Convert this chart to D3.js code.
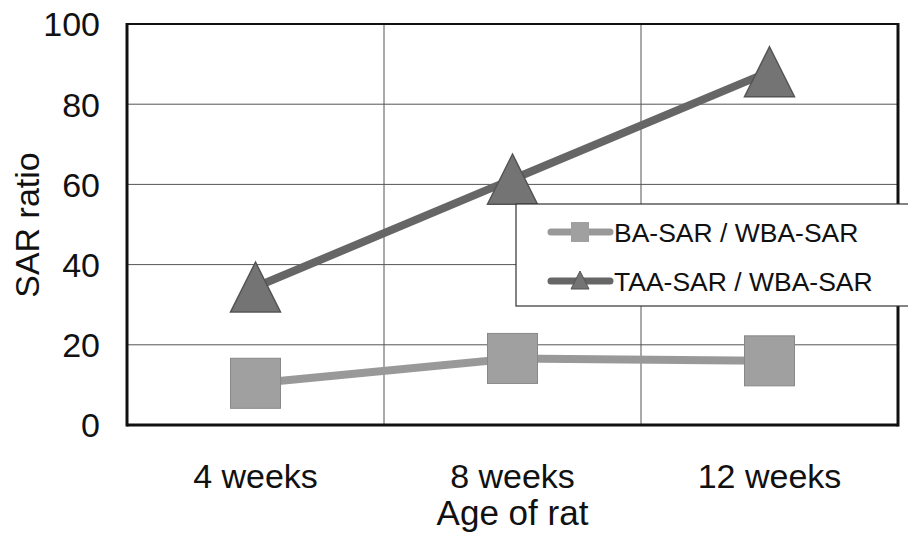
<!DOCTYPE html>
<html><head><meta charset="utf-8">
<script src="https://cdn.jsdelivr.net/npm/d3@7"></script>
<style>body{margin:0;background:#fff}svg{display:block}</style>
</head><body>
<svg id="c" width="908" height="541"></svg>
<script>
const categories = ["4 weeks", "8 weeks", "12 weeks"];
const baSeries = [10.4, 16.6, 16.0];
const taaSeries = [34.4, 61.3, 88.1];
const seriesNames = ["BA-SAR / WBA-SAR", "TAA-SAR / WBA-SAR"];
const yTicks = [0, 20, 40, 60, 80, 100];

const svg = d3.select("#c");
const m = {l: 127, r: 898, t: 24, b: 425};
const x = d3.scaleBand().domain(categories).range([m.l, m.r]);
const y = d3.scaleLinear().domain([0, 100]).range([m.b, m.t]);
const font = "Liberation Sans, Arial, sans-serif";

// gridlines
svg.append("g").selectAll("line").data(yTicks.filter(d => d > 0 && d < 100)).join("line")
  .attr("x1", m.l).attr("x2", m.r).attr("y1", d => y(d)).attr("y2", d => y(d))
  .attr("stroke", "#555").attr("stroke-width", 1);
svg.append("g").selectAll("line").data(categories.slice(1)).join("line")
  .attr("x1", d => x(d)).attr("x2", d => x(d)).attr("y1", m.t).attr("y2", m.b)
  .attr("stroke", "#555").attr("stroke-width", 1);

// frame
svg.append("line").attr("x1", m.l).attr("x2", m.r).attr("y1", m.t).attr("y2", m.t).attr("stroke", "#111").attr("stroke-width", 2);
svg.append("line").attr("x1", m.l).attr("x2", m.l).attr("y1", m.t - 1).attr("y2", m.b + 1.5).attr("stroke", "#111").attr("stroke-width", 3);
svg.append("line").attr("x1", m.r).attr("x2", m.r).attr("y1", m.t - 1).attr("y2", m.b + 1.5).attr("stroke", "#111").attr("stroke-width", 3);
svg.append("line").attr("x1", m.l).attr("x2", m.r).attr("y1", m.b).attr("y2", m.b).attr("stroke", "#111").attr("stroke-width", 3);

// axes (labels only)
const yAxis = d3.axisLeft(y).tickValues(yTicks).tickSize(0).tickPadding(0);
const gy = svg.append("g").attr("transform", `translate(${m.l - 27},0)`).call(yAxis);
gy.select(".domain").remove();
gy.selectAll("text").attr("font-family", font).attr("font-size", 34).attr("fill", "#111").attr("dy", "0.35em");

const xAxis = d3.axisBottom(x).tickSize(0).tickPadding(0);
const gx = svg.append("g").attr("transform", `translate(0,488)`).call(xAxis);
gx.select(".domain").remove();
gx.selectAll("text").attr("font-family", font).attr("font-size", 34).attr("fill", "#111").attr("dy", "0");

svg.append("text").attr("x", (m.l + m.r) / 2).attr("y", 525).attr("text-anchor", "middle")
  .attr("font-family", font).attr("font-size", 35).attr("fill", "#111").text("Age of rat");
svg.append("text").attr("transform", "translate(39,225) rotate(-90)").attr("text-anchor", "middle")
  .attr("font-family", font).attr("font-size", 34).attr("fill", "#111").text("SAR ratio");

const cx = d => x(d) + x.bandwidth() / 2;
const line = d3.line().x(d => cx(d.c)).y(d => y(d.v));
const baData = categories.map((c, i) => ({c, v: baSeries[i]}));
const taaData = categories.map((c, i) => ({c, v: taaSeries[i]}));

svg.append("path").datum(baData).attr("d", line).attr("fill", "none").attr("stroke", "#999").attr("stroke-width", 8);
svg.append("g").selectAll("rect").data(baData).join("rect")
  .attr("x", d => cx(d.c) - 25).attr("y", d => y(d.v) - 25).attr("width", 50).attr("height", 50)
  .attr("fill", "#a0a0a0").attr("stroke", "#888").attr("stroke-width", 1);

svg.append("path").datum(taaData).attr("d", line).attr("fill", "none").attr("stroke", "#666").attr("stroke-width", 8);
const tri = (px, py, s) => `M${px},${py - s / 2}L${px + s / 2},${py + s / 2}L${px - s / 2},${py + s / 2}Z`;
svg.append("g").selectAll("path").data(taaData).join("path")
  .attr("d", d => tri(cx(d.c), y(d.v), 50))
  .attr("fill", "#747474").attr("stroke", "#555").attr("stroke-width", 1.5);

// legend
const lg = svg.append("g");
lg.append("rect").attr("x", 516).attr("y", 204).attr("width", 400).attr("height", 102)
  .attr("fill", "#fff").attr("stroke", "#333").attr("stroke-width", 1.2);
const legendItems = [
  {name: seriesNames[0], color: "#999", fill: "#a0a0a0", shape: "sq", y: 232},
  {name: seriesNames[1], color: "#666", fill: "#747474", shape: "tri", y: 281}
];
legendItems.forEach(it => {
  lg.append("line").attr("x1", 551).attr("x2", 610).attr("y1", it.y).attr("y2", it.y)
    .attr("stroke", it.color).attr("stroke-width", 7).attr("stroke-linecap", "round");
  if (it.shape === "sq") {
    lg.append("rect").attr("x", 571).attr("y", it.y - 10).attr("width", 18).attr("height", 20).attr("fill", it.fill);
  } else {
    lg.append("path").attr("d", tri(580, it.y - 1, 18)).attr("fill", it.fill).attr("stroke", "#555");
  }
  lg.append("text").attr("x", 614).attr("y", it.y).attr("dy", "0.36em")
    .attr("font-family", font).attr("font-size", 26.5).attr("fill", "#111").text(it.name);
});
</script>
</body></html>
